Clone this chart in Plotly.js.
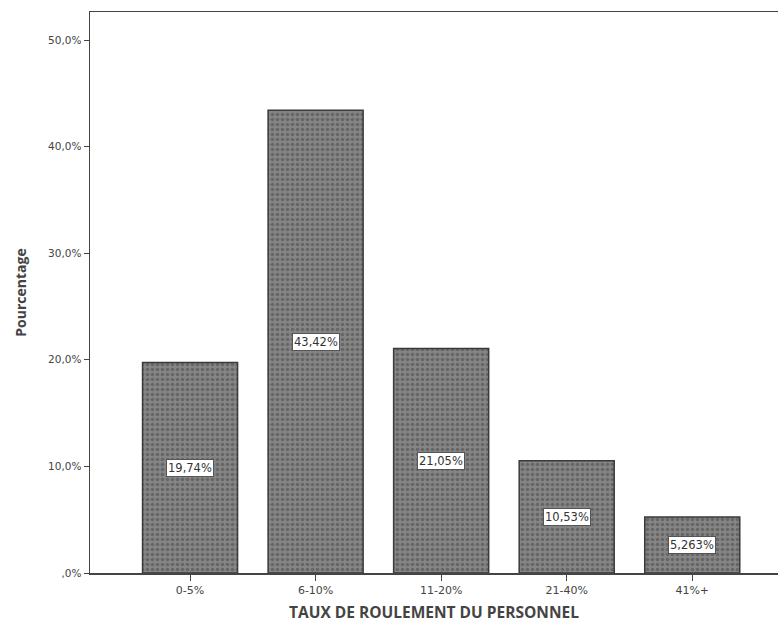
<!DOCTYPE html>
<html>
<head>
<meta charset="utf-8">
<script src="https://cdn.plot.ly/plotly-3.0.1.min.js"></script>
<style>html,body{margin:0;padding:0;background:#fff;}#chart{width:778px;height:630px;}</style>
</head>
<body>
<div id="chart"></div>
<script>
const categories = ["0-5%", "6-10%", "11-20%", "21-40%", "41%+"];
const values = [19.74, 43.42, 21.05, 10.53, 5.263];
const valueLabels = ["19,74%", "43,42%", "21,05%", "10,53%", "5,263%"];
const yTickVals = [0, 10, 20, 30, 40, 50];
const yTickText = [",0%", "10,0%", "20,0%", "30,0%", "40,0%", "50,0%"];

const trace = {
  type: "bar",
  x: categories.map((c, i) => i),
  y: values,
  width: 0.757,
  marker: {
    color: "#7a7a7a",
    line: {color: "#3a3a3a", width: 1.5},
    pattern: {shape: ".", fgcolor: "#666666", bgcolor: "#858585", size: 5, solidity: 0.4}
  },
  hoverinfo: "none"
};

const annotations = values.map((v, i) => ({
  x: i, y: v / 2, xref: "x", yref: "y",
  text: valueLabels[i], showarrow: false,
  bgcolor: "#ffffff", bordercolor: "#555", borderwidth: 1, borderpad: 1,
  font: {family: "DejaVu Sans", size: 11.5, color: "#333"}
}));

const layout = {
  width: 778, height: 630,
  margin: {l: 90, r: 0, t: 12, b: 57},
  paper_bgcolor: "#fff", plot_bgcolor: "#fff",
  showlegend: false,
  bargap: 0,
  font: {family: "DejaVu Sans", color: "#444"},
  xaxis: {
    range: [-0.797, 4.683],
    tickvals: categories.map((c, i) => i),
    ticktext: categories,
    ticks: "outside", ticklen: 6, tickcolor: "#444",
    showline: true, linecolor: "#444", linewidth: 1.5, mirror: true,
    showgrid: false, zeroline: false,
    tickfont: {family: "DejaVu Sans", size: 11, color: "#444"},
    title: {text: "TAUX DE ROULEMENT DU PERSONNEL", font: {family: "Open Sans", size: 15.5, color: "#444", weight: "bold"}, standoff: 11}
  },
  yaxis: {
    range: [0, 52.63],
    tickvals: yTickVals, ticktext: yTickText,
    ticks: "outside", ticklen: 5, tickcolor: "#444",
    showline: true, linecolor: "#444", linewidth: 1.5,
    showgrid: false, zeroline: false,
    tickfont: {family: "DejaVu Sans", size: 10.5, color: "#444"},
    title: {text: "Pourcentage", font: {family: "Open Sans", size: 14, color: "#444", weight: "bold"}, standoff: 18}
  },
  annotations: annotations
};

Plotly.newPlot("chart", [trace], layout, {displayModeBar: false, staticPlot: true});
</script>
</body>
</html>
